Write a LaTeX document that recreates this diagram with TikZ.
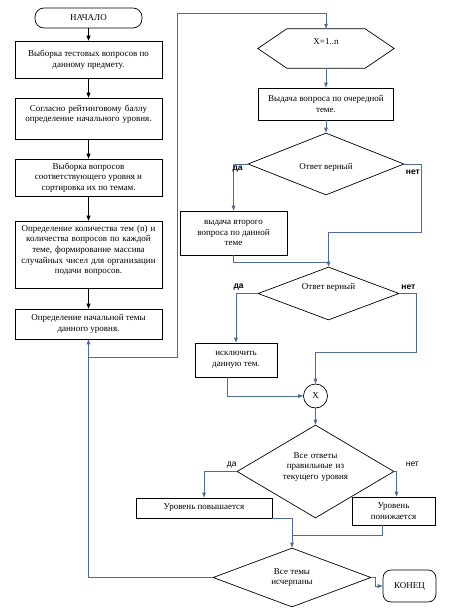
\documentclass[tikz,border=0pt]{standalone}
\usepackage{fontspec}
\setmainfont{Liberation Serif}
\setsansfont{Liberation Sans}
\usetikzlibrary{positioning,shapes.geometric,arrows.meta}
\definecolor{FlowBlue}{RGB}{79,109,148}

\begin{document}
\begin{tikzpicture}[x=1pt,y=-1pt,
    box/.style={draw,line width=0.7pt,align=center,inner sep=2pt,font=\fontsize{9}{10.7}\selectfont},
    term/.style={box,rounded corners=9pt},
    dec/.style={draw,diamond,aspect=2,line width=0.7pt,inner sep=0pt,align=center,font=\fontsize{9}{10.7}\selectfont},
    lbl/.style={inner sep=0pt,font=\sffamily\fontsize{8.5}{10}\selectfont},
    arr/.style={-{Triangle[length=5pt,width=4pt]},line width=0.7pt},
    line/.style={draw=FlowBlue,line width=0.8pt},
    flow/.style={line,-{Triangle[length=5pt,width=3.6pt]}}]
  \useasboundingbox (0,0) rectangle (455,610);

  % left column
  \node[term,minimum width=107pt,minimum height=20pt] (start) at (88.5,18) {НАЧАЛО};
  \node[box,minimum width=147pt,minimum height=37pt] (sel) at (88.5,59.5)
    {Выборка тестовых вопросов по\\данному предмету.};
  \node[box,minimum width=147pt,minimum height=41pt,text width=143pt,text height=11pt,text depth=26pt] (lvl) at (88.5,118.5)
    {Согласно рейтинговому баллу\\определение начального уровня.};
  \node[box,minimum width=147pt,minimum height=37pt] (sort) at (88.5,177.5)
    {Выборка вопросов\\соответствующего уровня и\\сортировка их по темам.};
  \node[box,minimum width=147pt,minimum height=67pt,text width=143pt,text height=8pt,text depth=55pt] (count) at (88.5,254.5)
    {Определение количества тем (n) и\\количества вопросов по каждой\\теме, формирование массива\\случайных чисел для организации\\подачи вопросов.};
  \node[box,minimum width=147pt,minimum height=30pt] (first) at (88.5,324)
    {Определение начальной темы\\данного уровня.};
  \foreach \a/\b in {start/sel,sel/lvl,lvl/sort,sort/count,count/first}
    \draw[arr] (\a) -- (\b);

  % right column
  \node[minimum width=136pt,minimum height=39pt,text height=7pt,text depth=14pt,
        font=\fontsize{9}{10.7}\selectfont] (hx) at (326,48.5) {X=1..n};
  \draw[line width=0.7pt] (hx.west) -- ([xshift=29pt]hx.north west) -- ([xshift=-29pt]hx.north east)
    -- (hx.east) -- ([xshift=-29pt]hx.south east) -- ([xshift=29pt]hx.south west) -- cycle;
  \node[box,minimum width=135pt,minimum height=32pt] (ask) at (326,104)
    {Выдача вопроса по очередной\\теме.};
  \node[dec,minimum width=156pt,minimum height=62pt,text height=11pt,text depth=1pt] (ok1) at (326,164) {Ответ верный};
  \node[box,minimum width=107pt,minimum height=44pt] (ask2) at (233.5,233)
    {выдача второго\\вопроса по данной\\теме};
  \node[dec,minimum width=141pt,minimum height=53pt,text height=7pt,text depth=15pt] (ok2) at (328.5,293.5)
    {Ответ верный};
  \node[box,minimum width=82pt,minimum height=34pt] (drop) at (236,360)
    {исключить\\данную тем.};
  \node[draw,circle,line width=0.7pt,minimum size=24pt,inner sep=0pt,
        font=\fontsize{9}{10.7}\selectfont] (cx) at (315.5,396) {X};
  \node[dec,minimum width=157pt,minimum height=93pt,text width=72pt,text height=7pt,text depth=34pt] (all) at (315.5,471.5)
    {Все ответы\\правильные из\\текущего уровня};
  \node[box,minimum width=136pt,minimum height=20pt] (up) at (204,508) {Уровень повышается};
  \node[box,minimum width=83pt,minimum height=28pt] (down) at (393.5,511) {Уровень\\понижается};
  \node[dec,minimum width=158pt,minimum height=59pt] (done) at (292,577.5) {Все темы\\исчерпаны};
  \node[term,minimum width=53pt,minimum height=32pt,rounded corners=8pt] (stop) at (409.5,586) {КОНЕЦ};

  % connectors
  \coordinate (loop) at (177,357);
  \coordinate (top) at (177,13);
  \coordinate (m1) at (328.5,232);
  \coordinate (m2) at (328.5,262);
  \coordinate (m3) at (315.5,352);
  \coordinate (m4) at (292,535);
  \draw[flow] (done.west) -| (first.south);
  \draw[line] (first.south |- loop) -- (loop) -- (top);
  \draw[flow] (top) -| (hx.north);
  \draw[flow] (hx.south) -- (ask.north);
  \draw[flow] (ask.south) -- (ok1.north);
  \draw[flow] (ok1.west) -| (ask2.north);
  \draw[flow] (ok1.east) -- ++(17,0) |- (m1) -- (ok2.north);
  \draw[line] (ask2.south) |- (m2);
  \draw[flow] (ok2.west) -| (drop.north);
  \draw[flow] (ok2.east) -- ++(17,0) |- (m3) -- (cx.north);
  \draw[flow] ([xshift=-9pt]drop.south) |- (cx.west);
  \draw[flow] (cx.south) -- (all.north);
  \draw[flow] (all.west) -| (up.north);
  \draw[flow] (all.east) -| ([xshift=3pt]down.north);
  \draw[flow] (up.south east) -| (done.north);
  \draw[line] ([xshift=-11pt]down.south) |- (m4);
  \draw[flow] (done.east) -- ++(4,0) |- (stop.west);

  % labels
  \node[lbl,font=\sffamily\bfseries\fontsize{8.5}{10}\selectfont] (yes1) at ([shift={(-10,5)}]ok1.west) {да};
  \node[lbl,font=\sffamily\bfseries\fontsize{8.5}{10}\selectfont] (no1) at ([shift={(8.5,8)}]ok1.east) {нет};
  \node[lbl,font=\sffamily\bfseries\fontsize{8.5}{10}\selectfont] (yes2) at ([shift={(-19,-6)}]ok2.west) {да};
  \node[lbl,font=\sffamily\bfseries\fontsize{8.5}{10}\selectfont] (no2) at ([shift={(9,-6)}]ok2.east) {нет};
  \node[lbl] (yes3) at ([shift={(-5,-6)}]all.west) {да};
  \node[lbl] (no3) at ([shift={(18,-7)}]all.east) {нет};
\end{tikzpicture}
\end{document}
